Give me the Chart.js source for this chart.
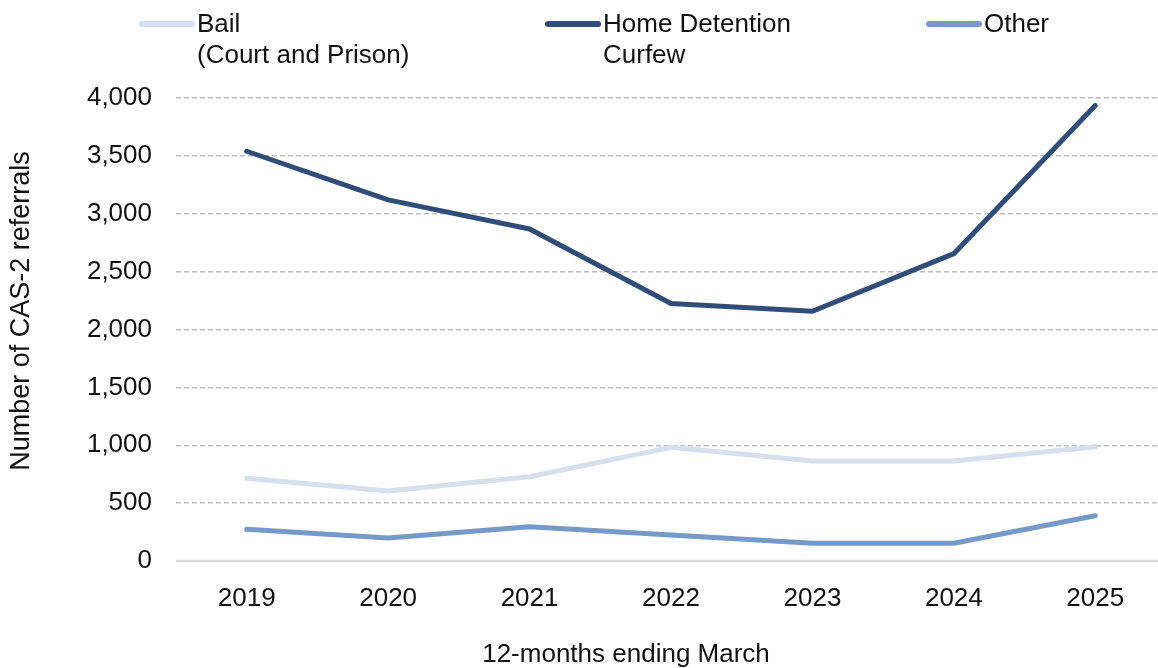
<!DOCTYPE html>
<html><head><meta charset="utf-8">
<script src="https://cdn.jsdelivr.net/npm/chart.js@4"></script>
<style>html,body{margin:0;padding:0;overflow:hidden;background:#fff;width:1158px;height:668px}canvas{display:block}</style>
</head><body>
<canvas id="c" width="1166" height="668"></canvas>
<script>
const categories = ["2019","2020","2021","2022","2023","2024","2025"];
const bail = [715, 605, 728, 982, 864, 864, 988];
const hdc = [3540, 3120, 2868, 2225, 2158, 2655, 3935];
const other = [274, 199, 296, 225, 153, 153, 391];
const seriesLabels = [["Bail","(Court and Prison)"],["Home Detention","Curfew"],["Other"]];
const yTicks = [0,500,1000,1500,2000,2500,3000,3500,4000];
const xTitle = "12-months ending March";
const yTitle = "Number of CAS-2 referrals";

const FONT = "Liberation Sans, Arial, sans-serif";
const FS = 26;
const colors = ["#D5DFEE","#2F4D78","#7599C9"];

const legendPlugin = {
  id:'customLegend',
  beforeDatasetsDraw(chart){
    const ctx = chart.ctx, y = chart.scales.y.getPixelForValue(0);
    ctx.save();
    ctx.strokeStyle = '#D9D9D9';
    ctx.lineWidth = 2.5;
    ctx.beginPath(); ctx.moveTo(chart.chartArea.left, y); ctx.lineTo(chart.chartArea.right, y); ctx.stroke();
    ctx.restore();
  },
  afterDraw(chart){
    const ctx = chart.ctx;
    ctx.save();
    const xs = [139, 545, 926];
    chart.data.datasets.forEach((ds,i)=>{
      const x = xs[i];
      ctx.strokeStyle = ds.borderColor;
      ctx.lineWidth = 6;
      ctx.lineCap = 'round';
      ctx.beginPath(); ctx.moveTo(x+3,24); ctx.lineTo(x+53,24); ctx.stroke();
      ctx.fillStyle = '#111';
      ctx.font = FS + 'px ' + FONT;
      ctx.textBaseline = 'middle';
      ctx.textAlign = 'left';
      const lines = Array.isArray(ds.label) ? ds.label : [ds.label];
      lines.forEach((t,j)=>ctx.fillText(t, x+58, 25 + j*31));
    });
    ctx.font = FS + 'px ' + FONT;
    ctx.fillStyle = '#111';
    ctx.textAlign = 'center';
    ctx.textBaseline = 'middle';
    ctx.fillText(xTitle, 626, 655);
    ctx.translate(22, 311);
    ctx.rotate(-Math.PI/2);
    ctx.font = '27px ' + FONT;
    ctx.fillText(yTitle, 0, 0);
    ctx.restore();
  }
};

const mk = (label, data, i) => ({
  label, data, borderColor: colors[i], backgroundColor: colors[i],
  borderWidth: 5, pointRadius: 0, tension: 0, fill: false,
  borderCapStyle: 'round', borderJoinStyle: 'round'
});

new Chart(document.getElementById('c'), {
  type: 'line',
  data: {
    labels: categories,
    datasets: [mk(seriesLabels[0], bail, 0), mk(seriesLabels[1], hdc, 1), mk(seriesLabels[2], other, 2)]
  },
  options: {
    responsive: false,
    animation: false,
    layout: { padding: { top: 98, left: 0, right: 0, bottom: 0 } },
    plugins: { legend: { display: false }, title: { display: false }, tooltip: { enabled: false } },
    scales: {
      x: {
        offset: true,
        grid: { display: false, drawTicks: false },
        border: { display: false },
        ticks: { padding: 22, color: '#111', font: { family: FONT, size: FS }, maxRotation: 0 },
        afterFit(s){ s.height = 107; }
      },
      y: {
        min: 0, max: 4000,
        afterBuildTicks(s){ s.ticks = yTicks.map(v=>({value:v})); },
        grid: {
          drawTicks: false,
          color: ctx => ctx.tick && ctx.tick.value === 0 ? 'rgba(0,0,0,0)' : '#BFBFBF',
          lineWidth: 1.5
        },
        border: { display: false, dash: [5,3] },
        ticks: {
          padding: 24, color: '#111', font: { family: FONT, size: FS },
          callback: v => v.toLocaleString('en-US')
        },
        afterFit(s){ s.width = 176; }
      }
    }
  },
  plugins: [legendPlugin]
});
</script>
</body></html>
